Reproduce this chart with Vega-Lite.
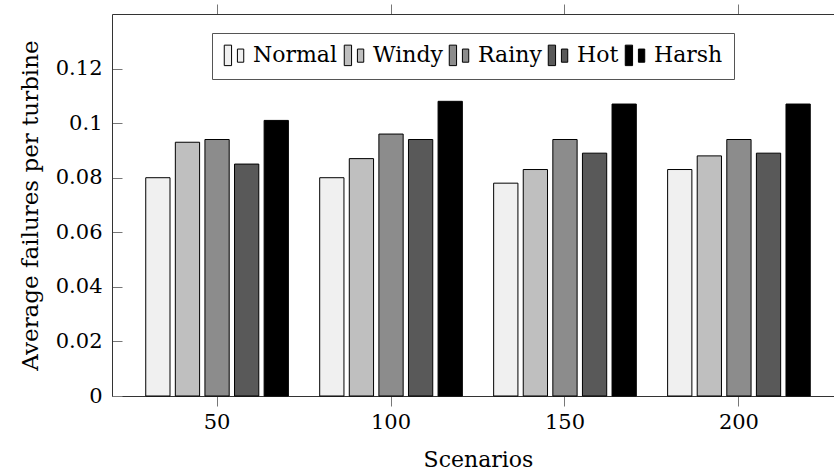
{
  "$schema": "https://vega.github.io/schema/vega-lite/v6.json",
  "width": 732,
  "height": 382,
  "autosize": {"type": "none"},
  "padding": {"left": 112, "top": 14, "right": 0, "bottom": 76},
  "background": "white",
  "data": {
    "values": [
      {"scenario": 50, "condition": "Normal", "failures": 0.080},
      {"scenario": 50, "condition": "Windy", "failures": 0.093},
      {"scenario": 50, "condition": "Rainy", "failures": 0.094},
      {"scenario": 50, "condition": "Hot", "failures": 0.085},
      {"scenario": 50, "condition": "Harsh", "failures": 0.101},
      {"scenario": 100, "condition": "Normal", "failures": 0.080},
      {"scenario": 100, "condition": "Windy", "failures": 0.087},
      {"scenario": 100, "condition": "Rainy", "failures": 0.096},
      {"scenario": 100, "condition": "Hot", "failures": 0.094},
      {"scenario": 100, "condition": "Harsh", "failures": 0.108},
      {"scenario": 150, "condition": "Normal", "failures": 0.078},
      {"scenario": 150, "condition": "Windy", "failures": 0.083},
      {"scenario": 150, "condition": "Rainy", "failures": 0.094},
      {"scenario": 150, "condition": "Hot", "failures": 0.089},
      {"scenario": 150, "condition": "Harsh", "failures": 0.107},
      {"scenario": 200, "condition": "Normal", "failures": 0.083},
      {"scenario": 200, "condition": "Windy", "failures": 0.088},
      {"scenario": 200, "condition": "Rainy", "failures": 0.094},
      {"scenario": 200, "condition": "Hot", "failures": 0.089},
      {"scenario": 200, "condition": "Harsh", "failures": 0.107}
    ]
  },
  "config": {
    "view": {"stroke": null},
    "font": "DejaVu Serif",
    "axis": {
      "labelFont": "DejaVu Serif",
      "titleFont": "DejaVu Serif",
      "labelFontSize": 21,
      "titleFontSize": 22,
      "titleFontWeight": "normal",
      "labelColor": "black",
      "titleColor": "black",
      "domainColor": "#333333",
      "tickColor": "#777777",
      "grid": false
    }
  },
  "layer": [
    {
      "mark": {"type": "bar", "stroke": "black", "strokeWidth": 1},
      "encoding": {
        "x": {
          "field": "scenario",
          "type": "ordinal",
          "scale": {"paddingInner": 0.18, "paddingOuter": 0.194},
          "axis": {
            "orient": "bottom",
            "title": "Scenarios",
            "labelAngle": 0,
            "tickSize": 10,
            "labelPadding": 5,
            "titlePadding": 17
          }
        },
        "xOffset": {
          "field": "condition",
          "type": "nominal",
          "sort": ["Normal", "Windy", "Rainy", "Hot", "Harsh"],
          "scale": {"paddingInner": 0.18, "paddingOuter": 0}
        },
        "y": {
          "field": "failures",
          "type": "quantitative",
          "scale": {"domain": [0, 0.14], "nice": false},
          "axis": {
            "title": "Average failures per turbine",
            "titleFontSize": 23,
            "values": [0, 0.02, 0.04, 0.06, 0.08, 0.1, 0.12],
            "format": "~g",
            "tickSize": -10,
            "labelPadding": 20,
            "titlePadding": 13
          }
        },
        "fill": {
          "field": "condition",
          "type": "nominal",
          "sort": ["Normal", "Windy", "Rainy", "Hot", "Harsh"],
          "scale": {
            "domain": ["Normal", "Windy", "Rainy", "Hot", "Harsh"],
            "range": ["#f0f0f0", "#bfbfbf", "#8c8c8c", "#595959", "#000000"]
          },
          "legend": {
            "orient": "none",
            "legendX": 100,
            "legendY": 19,
            "direction": "horizontal",
            "title": null,
            "symbolType": "M-1,-1.05H-0.25V1.05H-1Z M0.35,-0.65H1V0.7H0.35Z",
            "symbolSize": 380,
            "symbolStrokeColor": "black",
            "symbolStrokeWidth": 1,
            "labelFont": "DejaVu Serif",
            "labelFontSize": 22,
            "labelColor": "black",
            "labelOffset": 8,
            "columnPadding": 4,
            "padding": 11,
            "strokeColor": "#555555",
            "fillColor": "white"
          }
        }
      }
    },
    {
      "mark": {"type": "bar", "opacity": 0},
      "encoding": {
        "x": {
          "field": "scenario",
          "type": "ordinal",
          "scale": {"paddingInner": 0.18, "paddingOuter": 0.194},
          "axis": {
            "orient": "top",
            "title": null,
            "labels": false,
            "tickSize": 10
          }
        },
        "xOffset": {
          "field": "condition",
          "type": "nominal",
          "sort": ["Normal", "Windy", "Rainy", "Hot", "Harsh"],
          "scale": {"paddingInner": 0.18, "paddingOuter": 0}
        },
        "y": {
          "field": "failures",
          "type": "quantitative",
          "scale": {"domain": [0, 0.14], "nice": false},
          "axis": {
            "title": "Average failures per turbine",
            "titleFontSize": 23,
            "values": [0, 0.02, 0.04, 0.06, 0.08, 0.1, 0.12],
            "format": "~g",
            "tickSize": -10,
            "labelPadding": 20,
            "titlePadding": 13
          }
        }
      }
    }
  ],
  "resolve": {"axis": {"x": "independent"}}
}
